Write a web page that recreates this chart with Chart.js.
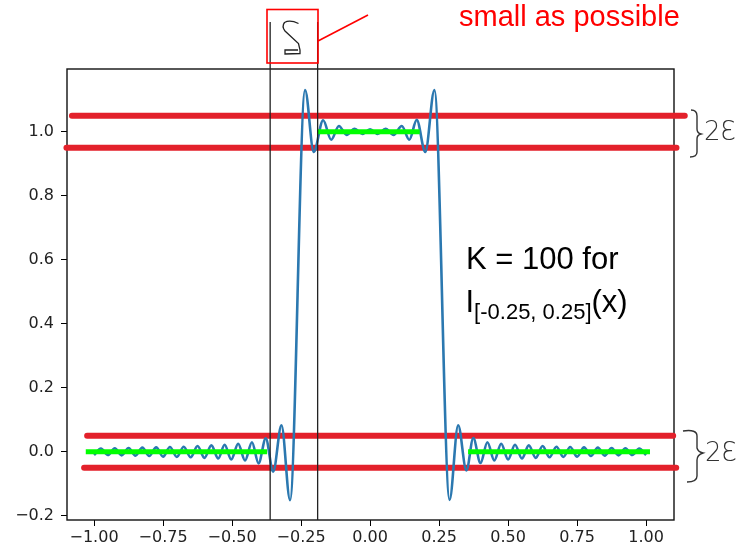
<!DOCTYPE html>
<html><head><meta charset="utf-8">
<script src="https://cdn.jsdelivr.net/npm/chart.js@4.4.1/dist/chart.umd.min.js"></script>
<style>html,body{margin:0;padding:0;background:#fff;}canvas{display:block;}</style>
</head><body>
<canvas id="c" width="743" height="547"></canvas>
<script>
// Blue curve: read extrema of the oscillating approximation
const curveX = [-1.000,-0.975,-0.950,-0.925,-0.900,-0.875,-0.850,-0.825,-0.800,-0.775,-0.750,-0.725,-0.700,-0.675,-0.650,-0.625,-0.600,-0.575,-0.550,-0.527,-0.503,-0.478,-0.453,-0.428,-0.404,-0.378,-0.351,-0.321,-0.290,
  -0.2355,-0.204,-0.170,-0.141,-0.113,-0.085,-0.056,-0.028,0.000,0.028,0.056,0.085,0.115,0.142,0.169,0.200,0.233,
  0.288,0.319,0.349,0.374,0.400,0.425,0.450,0.475,0.500,0.525,0.550,0.575,0.600,0.625,0.650,0.675,0.700,0.725,0.750,0.775,0.800,0.825,0.850,0.875,0.900,0.925,0.950,0.975,1.000];
const curveY = [-0.010,0.010,-0.010,0.011,-0.011,0.012,-0.012,0.013,-0.013,0.014,-0.015,0.015,-0.016,0.016,-0.017,0.018,-0.019,0.020,-0.021,0.022,-0.024,0.025,-0.027,0.030,-0.036,0.042,-0.062,0.083,-0.151,
  1.130,0.937,1.036,0.975,1.018,0.990,1.009,0.993,1.008,0.993,1.009,0.990,1.018,0.975,1.037,0.937,1.130,
  -0.150,0.083,-0.058,0.043,-0.035,0.030,-0.027,0.025,-0.024,0.022,-0.021,0.020,-0.019,0.018,-0.017,0.016,-0.016,0.015,-0.015,0.014,-0.013,0.013,-0.012,0.012,-0.011,0.011,-0.010,0.010,-0.010];

// Red hand-drawn epsilon bands
const redY = [1.05, 0.95, 0.05, -0.05];
const redStart = [-1.08, -1.10, -1.025, -1.036];
const redEnd = [1.14, 1.11, 1.098, 1.109];

// Green target segments
const greenY = [1, 0, 0];
const greenStart = [-0.19, -1.03, 0.355];
const greenEnd = [0.18, -0.373, 1.014];

// Black vertical delta lines
const vlineX = [-0.362, -0.19];
const vlineBottom = -0.213;
const vlineTop = 1.343;

const xTicks = [-1, -0.75, -0.5, -0.25, 0, 0.25, 0.5, 0.75, 1];
const xTickLabels = ['\u22121.00','\u22120.75','\u22120.50','\u22120.25','0.00','0.25','0.50','0.75','1.00'];
const yTicks = [-0.2, 0, 0.2, 0.4, 0.6, 0.8, 1.0];
const yTickLabels = ['\u22120.2','0.0','0.2','0.4','0.6','0.8','1.0'];

const datasets = [];
vlineX.forEach(x => datasets.push({
  data: [{x: x, y: vlineBottom}, {x: x, y: vlineTop}],
  showLine: true, borderColor: '#222', borderWidth: 1.3, pointRadius: 0, clip: false, order: 0
}));
greenY.forEach((y, i) => datasets.push({
  data: [{x: greenStart[i], y: y}, {x: greenEnd[i], y: y}],
  showLine: true, borderColor: '#00ff00', borderWidth: 5, pointRadius: 0, borderCapStyle: 'butt', clip: false, order: 1
}));
datasets.push({
  data: curveX.map((x, i) => ({x: x, y: curveY[i]})),
  showLine: true, borderColor: '#2b78b0', borderWidth: 2.6, pointRadius: 0,
  cubicInterpolationMode: 'monotone', tension: 0.4, order: 2
});
redY.forEach((y, i) => datasets.push({
  data: [{x: redStart[i], y: y}, {x: redEnd[i], y: y}],
  showLine: true, borderColor: '#e3212b', borderWidth: 6, pointRadius: 0, borderCapStyle: 'round', clip: false, order: 3
}));

const framePlugin = {
  id: 'frame',
  beforeDatasetsDraw(chart) {
    const a = chart.chartArea, ctx = chart.ctx;
    ctx.save();
    ctx.strokeStyle = '#111'; ctx.lineWidth = 1.4;
    ctx.strokeRect(a.left, a.top, a.right - a.left, a.bottom - a.top);
    ctx.restore();
  }
};

const notesPlugin = {
  id: 'notes',
  afterDraw(chart) {
    const ctx = chart.ctx;
    ctx.save();
    ctx.textBaseline = 'alphabetic';
    ctx.textAlign = 'left';
    // red note
    ctx.fillStyle = '#ff0000';
    ctx.font = '29px "Liberation Sans", Arial, sans-serif';
    ctx.fillText('small as possible', 459, 26);
    ctx.strokeStyle = '#ff0000'; ctx.lineWidth = 1.6;
    ctx.strokeRect(267, 9.5, 51, 53.5);
    ctx.beginPath(); ctx.moveTo(318, 41); ctx.lineTo(368, 15); ctx.stroke();
    // handwritten delta
    ctx.strokeStyle = '#222'; ctx.lineWidth = 1.3;
    ctx.beginPath();
    ctx.moveTo(298.5, 23.5);
    ctx.quadraticCurveTo(290, 19.5, 284.5, 22.5);
    ctx.quadraticCurveTo(281.5, 26.5, 285, 31);
    ctx.lineTo(298.5, 43.5);
    ctx.lineTo(300, 50);
    ctx.lineTo(300, 53.5);
    ctx.lineTo(285, 54);
    ctx.lineTo(285, 50);
    ctx.lineTo(298, 50);
    ctx.stroke();
    // K = 100 label
    ctx.fillStyle = '#000';
    ctx.font = '31px "Liberation Sans", Arial, sans-serif';
    ctx.fillText('K = 100 for', 466, 269);
    ctx.fillText('I', 465.5, 312);
    const iw = ctx.measureText('I').width;
    ctx.font = '22px "Liberation Sans", Arial, sans-serif';
    const sub = '[-0.25, 0.25]';
    ctx.fillText(sub, 465.5 + iw, 319);
    const sw = ctx.measureText(sub).width;
    ctx.font = '31px "Liberation Sans", Arial, sans-serif';
    ctx.fillText('(x)', 465.5 + iw + sw, 312);
    // braces
    ctx.strokeStyle = '#333'; ctx.lineWidth = 1.4;
    ctx.beginPath();
    ctx.moveTo(691, 110);
    ctx.quadraticCurveTo(697, 110, 697, 116);
    ctx.lineTo(697, 129);
    ctx.quadraticCurveTo(697, 133, 701, 134);
    ctx.quadraticCurveTo(697, 135, 697, 139);
    ctx.lineTo(697, 152);
    ctx.quadraticCurveTo(697, 157, 690, 157);
    ctx.stroke();
    ctx.beginPath();
    ctx.moveTo(683, 431);
    ctx.quadraticCurveTo(697, 429, 697, 436);
    ctx.lineTo(697, 448);
    ctx.quadraticCurveTo(698, 452, 703, 453);
    ctx.quadraticCurveTo(697, 455, 697, 460);
    ctx.lineTo(697, 476);
    ctx.quadraticCurveTo(697, 482, 687, 482);
    ctx.stroke();
    ctx.fillStyle = '#333';
    ctx.font = '200 26px "DejaVu Sans", sans-serif';
    ctx.fillText('2\u0190', 704, 140);
    ctx.fillText('2\u0190', 705, 461);
    ctx.restore();
  }
};

new Chart(document.getElementById('c'), {
  type: 'scatter',
  data: { datasets: datasets },
  options: {
    responsive: false,
    animation: false,
    devicePixelRatio: 1,
    events: [],
    layout: { padding: { left: 0, top: 69, right: 69, bottom: 0 } },
    plugins: { legend: { display: false }, tooltip: { enabled: false } },
    scales: {
      x: {
        type: 'linear', min: -1.098, max: 1.101,
        afterBuildTicks: s => { s.ticks = xTicks.map(v => ({ value: v })); },
        afterFit: s => { s.height = 27; },
        grid: { display: true, drawOnChartArea: false, drawTicks: true, tickLength: 6, color: '#000', lineWidth: 1 },
        border: { display: false },
        ticks: {
          autoSkip: false, maxRotation: 0, padding: 2, color: '#222',
          font: { family: '"DejaVu Sans", sans-serif', size: 16 },
          callback: v => xTickLabels[xTicks.indexOf(v)]
        }
      },
      y: {
        type: 'linear', min: -0.213, max: 1.196,
        afterBuildTicks: s => { s.ticks = yTicks.map(v => ({ value: v })); },
        afterFit: s => { s.width = 67; },
        grid: { display: true, drawOnChartArea: false, drawTicks: true, tickLength: 6, color: '#000', lineWidth: 1 },
        border: { display: false },
        ticks: {
          autoSkip: false, padding: 7, color: '#222',
          font: { family: '"DejaVu Sans", sans-serif', size: 16 },
          callback: v => yTickLabels[yTicks.indexOf(v)]
        }
      }
    }
  },
  plugins: [framePlugin, notesPlugin]
});
</script>
</body></html>
